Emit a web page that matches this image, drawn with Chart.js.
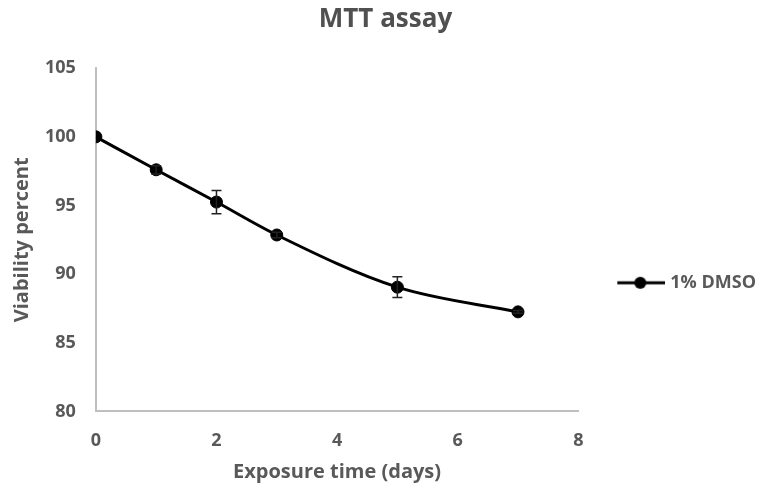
<!DOCTYPE html>
<html>
<head>
<meta charset="utf-8">
<script src="https://cdn.jsdelivr.net/npm/chart.js@4"></script>
<style>
  html, body { margin: 0; padding: 0; background: #fff; }
  #wrap { width: 761px; height: 492px; }
</style>
</head>
<body>
<div id="wrap"><canvas id="mttChart"></canvas></div>
<script>
const exposureDays = [0, 1, 2, 3, 5, 7];
const viability = [100, 97.6, 95.25, 92.85, 89.05, 87.25];
const viabilityErr = [0, 0.3, 0.85, 0.2, 0.75, 0.1];
const seriesName = '1% DMSO';

const grey = '#595959';
const font = 'Open Sans';
const slotWidth = 80;

// legend marker: line with a dot, drawn at the right end of the slot
function legendMarker() {
    const c = document.createElement('canvas');
    c.width = slotWidth + 8;
    c.height = 14;
    const g = c.getContext('2d');
    const w = c.width;
    g.strokeStyle = '#000';
    g.lineWidth = 3;
    g.beginPath();
    g.moveTo(w - 48, 7);
    g.lineTo(w, 7);
    g.stroke();
    g.fillStyle = '#000';
    g.beginPath();
    g.arc(w - 25, 7, 6, 0, Math.PI * 2);
    g.fill();
    return c;
}
const marker = legendMarker();

const errorBars = {
    id: 'errorBars',
    afterDatasetsDraw(chart) {
        const { ctx, scales } = chart;
        ctx.save();
        ctx.strokeStyle = '#222';
        ctx.lineWidth = 1.5;
        exposureDays.forEach((d, i) => {
            const e = viabilityErr[i];
            if (!e) return;
            const x = scales.x.getPixelForValue(d);
            const yTop = scales.y.getPixelForValue(viability[i] + e);
            const yBot = scales.y.getPixelForValue(viability[i] - e);
            ctx.beginPath();
            ctx.moveTo(x, yTop); ctx.lineTo(x, yBot);
            ctx.moveTo(x - 5, yTop); ctx.lineTo(x + 5, yTop);
            ctx.moveTo(x - 5, yBot); ctx.lineTo(x + 5, yBot);
            ctx.stroke();
        });
        ctx.restore();
    }
};

new Chart(document.getElementById('mttChart'), {
    type: 'line',
    data: {
        datasets: [{
            label: seriesName,
            data: exposureDays.map((d, i) => ({ x: d, y: viability[i] })),
            borderColor: '#000',
            backgroundColor: '#000',
            borderWidth: 3,
            pointRadius: 6,
            pointBorderWidth: 1,
            pointHoverRadius: 6,
            tension: 0.3,
            cubicInterpolationMode: 'monotone',
        }],
    },
    options: {
        responsive: true,
        maintainAspectRatio: false,
        animation: false,
        layout: { padding: { left: 5, right: -5, top: 0, bottom: 2 } },
        scales: {
            x: {
                type: 'linear',
                min: 0,
                max: 8,
                grid: { display: false, drawTicks: false },
                border: { color: '#bfbfbf', width: 2 },
                ticks: { stepSize: 2, color: grey, padding: 19, font: { family: font, size: 18, weight: 'bold' } },
                title: { display: true, text: 'Exposure time (days)', color: grey, padding: { top: -11, bottom: 6 }, font: { family: font, size: 20, weight: 'bold' } },
            },
            y: {
                min: 80,
                max: 105,
                grid: { display: false, drawTicks: false },
                border: { color: '#bfbfbf', width: 2 },
                ticks: { stepSize: 5, color: grey, padding: 20, font: { family: font, size: 18, weight: 'bold' } },
                title: { display: true, text: 'Viability percent', color: grey, padding: { top: 5, bottom: -9 }, font: { family: font, size: 20, weight: 'bold' } },
            },
        },
        plugins: {
            tooltip: { enabled: false },
            title: {
                display: true,
                text: 'MTT assay',
                color: '#505050',
                padding: { top: 4, bottom: 33 },
                font: { family: font, size: 26, weight: 'bold' },
            },
            legend: {
                position: 'right',
                title: { display: true, text: ' ', padding: { top: 66, bottom: 0 }, font: { size: 8 } },
                labels: {
                    usePointStyle: true,
                    pointStyleWidth: slotWidth,
                    color: grey,
                    padding: 3,
                    font: { family: font, size: 18, weight: 'bold' },
                    generateLabels: () => [{
                        text: seriesName,
                        pointStyle: marker,
                        fontColor: grey,
                        datasetIndex: 0,
                        lineWidth: 0,
                    }],
                },
            },
        },
    },
    plugins: [errorBars],
});
</script>
</body>
</html>
